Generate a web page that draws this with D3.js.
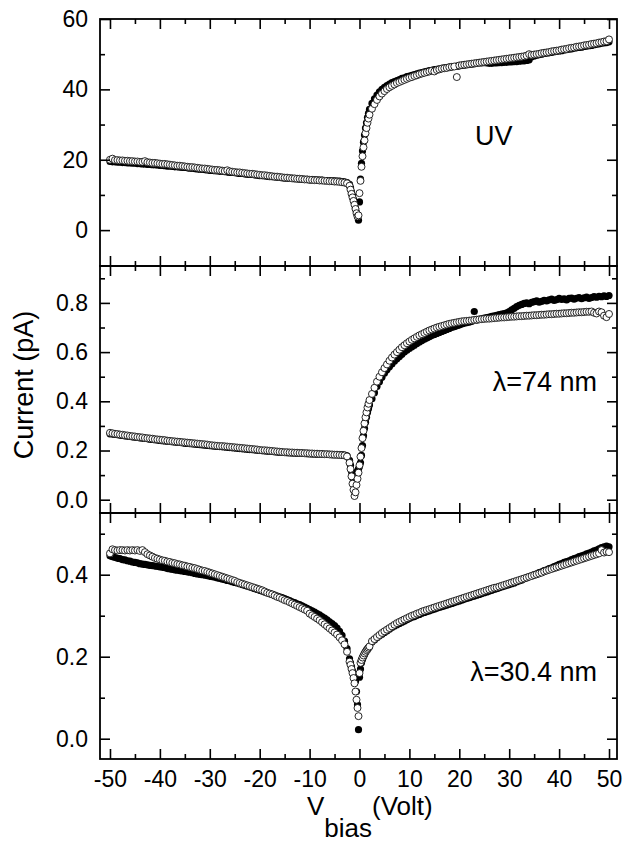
<!DOCTYPE html>
<html>
<head>
<meta charset="utf-8">
<script src="https://cdn.jsdelivr.net/npm/d3@7"></script>
<style>
  body { margin: 0; background: #fff; }
  svg { display: block; font-family: "Liberation Sans", Arial, sans-serif; }
</style>
</head>
<body>
<div id="chart"></div>
<script>
// bias sweep (Volt), shared by all six series
const voltage = [
  -50,-49.5,-49,-48.5,-48,-47.5,-47,-46.5,-46,-45.5,
  -45,-44.5,-44,-43.5,-43,-42.5,-42,-41.5,-41,-40.5,
  -40,-39.5,-39,-38.5,-38,-37.5,-37,-36.5,-36,-35.5,
  -35,-34.5,-34,-33.5,-33,-32.5,-32,-31.5,-31,-30.5,
  -30,-29.5,-29,-28.5,-28,-27.5,-27,-26.5,-26,-25.5,
  -25,-24.5,-24,-23.5,-23,-22.5,-22,-21.5,-21,-20.5,
  -20,-19.5,-19,-18.5,-18,-17.5,-17,-16.5,-16,-15.5,
  -15,-14.5,-14,-13.5,-13,-12.5,-12,-11.5,-11,-10.5,
  -10,-9.5,-9,-8.5,-8,-7.5,-7,-6.5,-6,-5.5,
  -5,-4.5,-4,-3.5,-3,-2.5,
  -2,-1.8,-1.6,-1.4,-1.2,-1,-0.8,-0.6,-0.4,-0.2,0,0.2,0.4,0.6,0.8,1,1.2,1.4,1.6,1.8,2,
  2.5,3,3.5,4,4.5,5,5.5,6,6.5,7,
  7.5,8,8.5,9,9.5,10,10.5,11,11.5,12,
  12.5,13,13.5,14,14.5,15,15.5,16,16.5,17,
  17.5,18,18.5,19,19.5,20,20.5,21,21.5,22,
  22.5,23,23.5,24,24.5,25,25.5,26,26.5,27,
  27.5,28,28.5,29,29.5,30,30.5,31,31.5,32,
  32.5,33,33.5,34,34.5,35,35.5,36,36.5,37,
  37.5,38,38.5,39,39.5,40,40.5,41,41.5,42,
  42.5,43,43.5,44,44.5,45,45.5,46,46.5,47,
  47.5,48,48.5,49,49.5,50
];

// UV panel (pA)
const uvOpen = [
  20.0,20.3,19.9,19.9,19.8,19.8,19.7,19.7,19.6,19.6,
  19.5,19.5,19.4,19.4,19.6,19.3,19.2,19.1,19.1,19.0,
  18.9,18.8,18.8,18.7,18.6,18.5,18.4,18.3,18.3,18.2,
  18.1,18.0,17.9,17.9,17.8,17.7,17.6,17.5,17.5,17.4,
  17.3,17.2,17.1,17.1,17.0,16.9,16.8,17.0,16.7,16.6,
  16.5,16.4,16.4,16.3,16.2,16.1,16.0,16.0,15.9,15.8,
  15.7,15.6,15.6,15.5,15.4,15.3,15.2,15.2,15.1,15.0,
  14.9,14.9,14.8,14.7,14.7,14.6,14.6,14.5,14.4,14.4,
  14.3,14.3,14.2,14.2,14.1,14.1,14.0,14.0,13.9,13.9,
  13.8,13.8,13.7,13.6,13.5,13.3,
  12.6,11.5,10.3,9.3,8.3,7.2,6.0,4.8,3.9,4.2,10.5,14.0,18.0,21.0,23.5,25.5,27.5,29.0,30.5,31.7,32.8,
  34.5,35.8,37.0,38.0,38.8,39.5,40.1,40.6,41.0,41.4,
  41.8,42.1,42.4,42.7,43.0,43.3,43.5,43.8,44.0,44.3,
  44.5,44.7,44.9,45.1,45.3,45.1,45.5,45.7,45.9,46.0,
  46.1,46.3,46.4,46.5,43.5,46.8,46.9,47.0,47.1,47.2,
  47.3,47.4,47.5,47.6,47.7,47.8,47.9,48.0,48.1,48.2,
  48.3,48.4,48.5,48.6,48.7,48.8,48.9,49.0,49.1,49.2,
  49.3,49.4,49.6,50.0,49.8,49.9,50.0,50.1,50.3,50.4,
  50.5,50.6,50.8,50.9,51.0,51.1,51.3,51.4,51.5,51.7,
  51.8,51.9,52.1,52.2,52.3,52.5,52.6,52.7,52.9,53.0,
  53.1,53.3,53.4,53.6,53.7,54.2
];
const uvFilled = [
  19.5,19.4,19.4,19.3,19.3,19.2,19.2,19.1,19.1,19.0,
  19.0,18.9,18.9,18.8,18.8,18.7,18.7,18.6,18.6,18.5,
  18.4,18.4,18.3,18.2,18.2,18.1,18.0,18.0,17.9,17.8,
  17.8,17.7,17.6,17.6,17.5,17.4,17.3,17.3,17.2,17.1,
  17.0,17.0,16.9,16.8,16.7,16.7,16.6,16.5,16.4,16.4,
  16.3,16.2,16.1,16.1,16.0,15.9,15.8,15.8,15.7,15.6,
  15.5,15.5,15.4,15.3,15.2,15.2,15.1,15.0,15.0,14.9,
  14.8,14.8,14.7,14.7,14.6,14.6,14.5,14.5,14.4,14.4,
  14.3,14.3,14.3,14.2,14.2,14.2,14.1,14.1,14.1,14.0,
  14.0,13.9,13.9,13.8,13.7,13.5,
  13.0,12.0,10.8,9.8,8.7,7.5,6.2,5.0,3.8,2.8,8.0,14.5,19.0,22.5,25.0,27.0,29.0,30.5,32.0,33.2,34.3,
  36.0,37.3,38.4,39.3,40.0,40.6,41.1,41.5,41.9,42.2,
  42.5,42.8,43.1,43.3,43.6,43.8,44.0,44.2,44.4,44.6,
  44.8,45.0,45.1,45.3,45.4,45.6,45.7,45.8,46.0,46.1,
  46.2,46.3,46.4,46.5,46.6,46.7,46.8,46.9,47.0,47.1,
  47.2,47.3,47.4,47.5,47.5,47.6,47.5,47.4,47.4,47.5,
  47.5,47.6,47.6,47.7,47.7,47.8,47.8,47.9,47.9,48.0,
  48.1,48.1,48.2,48.4,49.3,49.5,49.7,49.9,50.0,50.2,
  50.3,50.4,50.5,50.7,50.8,50.9,51.0,51.2,51.3,51.4,
  51.5,51.7,51.8,51.9,52.0,52.2,52.3,52.4,52.5,52.7,
  52.8,52.9,53.1,53.2,53.3,53.5
];

// lambda = 74 nm panel (pA)
const nm74Open = [
  0.272,0.270,0.268,0.267,0.265,0.264,0.262,0.261,0.259,0.258,
  0.257,0.255,0.254,0.253,0.251,0.250,0.249,0.248,0.246,0.245,
  0.244,0.243,0.242,0.240,0.239,0.238,0.237,0.236,0.235,0.234,
  0.233,0.232,0.231,0.230,0.229,0.228,0.227,0.226,0.225,0.224,
  0.222,0.221,0.220,0.219,0.218,0.218,0.217,0.216,0.215,0.214,
  0.213,0.212,0.211,0.210,0.209,0.208,0.207,0.206,0.205,0.204,
  0.202,0.201,0.201,0.200,0.199,0.198,0.197,0.196,0.195,0.194,
  0.193,0.193,0.192,0.192,0.191,0.191,0.190,0.190,0.189,0.189,
  0.188,0.188,0.187,0.187,0.186,0.186,0.185,0.185,0.184,0.184,
  0.183,0.183,0.182,0.181,0.180,0.176,
  0.150,0.125,0.095,0.065,0.040,0.015,0.030,0.060,0.085,0.110,0.140,0.175,0.210,0.250,0.280,0.310,0.335,0.355,0.375,0.390,0.405,
  0.430,0.455,0.480,0.500,0.518,0.535,0.550,0.565,0.578,0.590,
  0.600,0.610,0.620,0.628,0.636,0.643,0.650,0.656,0.662,0.668,
  0.673,0.678,0.683,0.688,0.692,0.696,0.700,0.703,0.706,0.709,
  0.712,0.715,0.717,0.719,0.721,0.723,0.725,0.726,0.727,0.728,
  0.729,0.731,0.732,0.733,0.734,0.735,0.736,0.736,0.737,0.738,
  0.739,0.740,0.741,0.741,0.742,0.743,0.744,0.744,0.745,0.746,
  0.746,0.747,0.748,0.748,0.749,0.750,0.750,0.751,0.752,0.752,
  0.753,0.754,0.754,0.755,0.756,0.756,0.757,0.758,0.758,0.759,
  0.760,0.760,0.761,0.762,0.762,0.763,0.764,0.764,0.765,0.760,
  0.757,0.765,0.762,0.748,0.742,0.755
];
const nm74Filled = [
  0.268,0.267,0.265,0.264,0.262,0.261,0.259,0.258,0.257,0.255,
  0.254,0.253,0.251,0.250,0.249,0.248,0.246,0.245,0.244,0.243,
  0.241,0.240,0.239,0.238,0.237,0.236,0.235,0.234,0.233,0.232,
  0.230,0.229,0.228,0.227,0.226,0.225,0.224,0.223,0.222,0.221,
  0.220,0.219,0.218,0.217,0.216,0.215,0.214,0.213,0.212,0.211,
  0.210,0.209,0.208,0.207,0.206,0.205,0.204,0.203,0.202,0.201,
  0.200,0.199,0.198,0.197,0.197,0.196,0.195,0.194,0.193,0.193,
  0.192,0.191,0.191,0.190,0.190,0.189,0.189,0.188,0.188,0.187,
  0.187,0.186,0.186,0.185,0.185,0.185,0.184,0.184,0.184,0.183,
  0.183,0.183,0.182,0.182,0.181,0.178,
  0.160,0.140,0.115,0.090,0.070,0.075,0.090,0.100,0.115,0.125,0.135,0.150,0.180,0.220,0.260,0.290,0.315,0.335,0.355,0.370,0.385,
  0.410,0.435,0.460,0.480,0.498,0.514,0.528,0.540,0.552,0.563,
  0.573,0.582,0.591,0.600,0.608,0.615,0.622,0.628,0.635,0.641,
  0.647,0.652,0.657,0.662,0.667,0.672,0.676,0.680,0.684,0.688,
  0.692,0.696,0.700,0.703,0.707,0.710,0.714,0.717,0.720,0.722,
  0.725,0.765,0.730,0.733,0.735,0.738,0.740,0.742,0.745,0.747,
  0.749,0.752,0.754,0.757,0.760,0.765,0.772,0.778,0.785,0.790,
  0.794,0.798,0.800,0.797,0.802,0.805,0.808,0.803,0.806,0.810,
  0.808,0.812,0.815,0.810,0.813,0.818,0.814,0.816,0.812,0.818,
  0.820,0.815,0.819,0.822,0.817,0.821,0.824,0.818,0.822,0.826,
  0.823,0.827,0.825,0.829,0.826,0.830
];

// lambda = 30.4 nm panel (pA)
const nm30Open = [
  0.452,0.462,0.460,0.459,0.460,0.460,0.459,0.460,0.459,0.460,
  0.459,0.460,0.458,0.460,0.455,0.450,0.447,0.444,0.441,0.439,
  0.437,0.435,0.434,0.432,0.431,0.429,0.428,0.426,0.425,0.423,
  0.422,0.420,0.419,0.417,0.416,0.414,0.412,0.410,0.409,0.407,
  0.405,0.403,0.401,0.399,0.397,0.395,0.393,0.391,0.389,0.387,
  0.385,0.382,0.380,0.378,0.376,0.374,0.372,0.370,0.368,0.366,
  0.364,0.362,0.359,0.356,0.354,0.352,0.349,0.346,0.344,0.341,
  0.338,0.336,0.333,0.330,0.327,0.324,0.321,0.318,0.315,0.312,
  0.305,0.301,0.297,0.293,0.289,0.284,0.279,0.274,0.269,0.264,
  0.259,0.254,0.247,0.240,0.230,0.212,
  0.188,0.180,0.170,0.160,0.148,0.135,0.115,0.095,0.075,0.055,0.160,0.185,0.192,0.198,0.203,0.208,0.212,0.216,0.219,0.222,0.225,
  0.238,0.243,0.248,0.253,0.258,0.262,0.266,0.270,0.274,0.278,
  0.282,0.285,0.288,0.291,0.294,0.297,0.300,0.302,0.305,0.307,
  0.310,0.312,0.314,0.316,0.318,0.320,0.322,0.324,0.326,0.328,
  0.330,0.332,0.334,0.336,0.338,0.340,0.342,0.344,0.346,0.348,
  0.350,0.352,0.354,0.356,0.358,0.360,0.362,0.364,0.366,0.368,
  0.369,0.371,0.373,0.375,0.377,0.379,0.381,0.383,0.385,0.387,
  0.389,0.391,0.393,0.395,0.397,0.399,0.401,0.403,0.405,0.408,
  0.410,0.412,0.414,0.416,0.418,0.420,0.422,0.424,0.426,0.428,
  0.430,0.432,0.434,0.436,0.438,0.440,0.442,0.444,0.446,0.448,
  0.450,0.452,0.460,0.454,0.456,0.455
];
const nm30Filled = [
  0.446,0.444,0.442,0.440,0.439,0.437,0.436,0.434,0.433,0.431,
  0.430,0.429,0.427,0.426,0.425,0.424,0.423,0.422,0.421,0.420,
  0.419,0.418,0.417,0.415,0.414,0.413,0.412,0.411,0.410,0.409,
  0.408,0.407,0.406,0.405,0.403,0.402,0.401,0.400,0.399,0.398,
  0.396,0.395,0.394,0.392,0.391,0.389,0.388,0.386,0.385,0.383,
  0.381,0.380,0.378,0.376,0.374,0.372,0.370,0.368,0.366,0.364,
  0.362,0.360,0.358,0.356,0.354,0.352,0.350,0.348,0.346,0.344,
  0.342,0.339,0.337,0.334,0.332,0.329,0.327,0.324,0.321,0.318,
  0.315,0.312,0.309,0.305,0.302,0.298,0.294,0.290,0.285,0.281,
  0.276,0.270,0.262,0.252,0.238,0.220,
  0.195,0.185,0.175,0.165,0.155,0.150,0.140,0.115,0.083,0.022,0.150,0.170,0.185,0.193,0.200,0.205,0.210,0.214,0.217,0.221,0.224,
  0.236,0.241,0.246,0.251,0.255,0.259,0.263,0.267,0.271,0.275,
  0.278,0.281,0.284,0.287,0.290,0.293,0.296,0.298,0.301,0.303,
  0.306,0.308,0.310,0.312,0.314,0.316,0.318,0.320,0.322,0.324,
  0.326,0.328,0.330,0.332,0.334,0.336,0.338,0.340,0.342,0.344,
  0.346,0.348,0.350,0.352,0.354,0.356,0.358,0.360,0.362,0.364,
  0.366,0.368,0.370,0.372,0.374,0.376,0.378,0.380,0.383,0.385,
  0.387,0.390,0.392,0.395,0.397,0.400,0.402,0.405,0.407,0.410,
  0.412,0.415,0.417,0.420,0.422,0.425,0.427,0.430,0.432,0.434,
  0.437,0.439,0.441,0.444,0.446,0.448,0.451,0.453,0.455,0.458,
  0.460,0.463,0.466,0.468,0.470,0.468
];

// tick values
const xMajor = [-50,-40,-30,-20,-10,0,10,20,30,40,50];
const xMinor = [-45,-35,-25,-15,-5,5,15,25,35,45];
const uvMajor = [0,20,40,60];
const uvMinor = [-10,10,30,50];
const nm74Major = [0,0.2,0.4,0.6,0.8];
const nm74Minor = [0.1,0.3,0.5,0.7,0.9];
const nm30Major = [0,0.2,0.4];
const nm30Minor = [0.1,0.3,0.5];

const W = 623, H = 845;
const left = 100, right = 617;

// plain hyphen for negatives, like the original
const fmtInt = function (d) { return String(d); };
const fmtOne = function (d) { return d.toFixed(1); };

const svg = d3.select("#chart").append("svg")
  .attr("width", W)
  .attr("height", H);

const x = d3.scaleLinear().domain([-52, 51.6]).range([left, right]);

const panels = [
  {top: 19, bottom: 266, domain: [-10.2, 60], major: uvMajor, minor: uvMinor, fmt: fmtInt,
   open: uvOpen, filled: uvFilled, label: "UV", lx: 475, ly: 145, anchor: "start"},
  {top: 266, bottom: 513, domain: [-0.054, 0.95], major: nm74Major, minor: nm74Minor, fmt: fmtOne,
   open: nm74Open, filled: nm74Filled, label: "\u03bb=74 nm", lx: 597, ly: 391, anchor: "end"},
  {top: 513, bottom: 759, domain: [-0.0495, 0.5505], major: nm30Major, minor: nm30Minor, fmt: fmtOne,
   open: nm30Open, filled: nm30Filled, label: "\u03bb=30.4 nm", lx: 597, ly: 681, anchor: "end"}
];

function styleAxis(g) {
  g.select(".domain").remove();
  g.selectAll("line").attr("stroke", "#000").attr("stroke-width", 1.6);
  g.selectAll("text").attr("fill", "#000").style("font-size", "23px");
}

panels.forEach(function (p, i) {
  const y = d3.scaleLinear().domain(p.domain).range([p.bottom, p.top]);
  const last = i === panels.length - 1;

  // points: filled first, open on top
  const g = svg.append("g");
  g.selectAll(".filled")
    .data(voltage)
    .enter().append("circle")
    .attr("class", "filled")
    .attr("cx", function (d) { return x(d); })
    .attr("cy", function (d, j) { return y(p.filled[j]); })
    .attr("r", 3.6)
    .attr("fill", "#000");

  g.selectAll(".open")
    .data(voltage)
    .enter().append("circle")
    .attr("class", "open")
    .attr("cx", function (d) { return x(d); })
    .attr("cy", function (d, j) { return y(p.open[j]); })
    .attr("r", 3.5)
    .attr("fill", "#fff")
    .attr("stroke", "#111")
    .attr("stroke-width", 0.9);

  // left axis
  svg.append("g")
    .attr("transform", "translate(" + left + ",0)")
    .call(d3.axisLeft(y).tickValues(p.major).tickFormat(p.fmt).tickSizeInner(-10).tickSizeOuter(0).tickPadding(12))
    .call(styleAxis);
  svg.append("g")
    .attr("transform", "translate(" + left + ",0)")
    .call(d3.axisLeft(y).tickValues(p.minor).tickFormat("").tickSizeInner(-5).tickSizeOuter(0))
    .call(styleAxis);

  // right axis
  svg.append("g")
    .attr("transform", "translate(" + right + ",0)")
    .call(d3.axisRight(y).tickValues(p.major).tickFormat("").tickSizeInner(-10).tickSizeOuter(0))
    .call(styleAxis);
  svg.append("g")
    .attr("transform", "translate(" + right + ",0)")
    .call(d3.axisRight(y).tickValues(p.minor).tickFormat("").tickSizeInner(-5).tickSizeOuter(0))
    .call(styleAxis);

  // top and bottom
  svg.append("g")
    .attr("transform", "translate(0," + p.top + ")")
    .call(d3.axisTop(x).tickValues(xMajor).tickFormat("").tickSizeInner(-10).tickSizeOuter(0))
    .call(styleAxis);
  svg.append("g")
    .attr("transform", "translate(0," + p.top + ")")
    .call(d3.axisTop(x).tickValues(xMinor).tickFormat("").tickSizeInner(-5).tickSizeOuter(0))
    .call(styleAxis);
  svg.append("g")
    .attr("transform", "translate(0," + p.bottom + ")")
    .call(d3.axisBottom(x).tickValues(xMajor).tickFormat(last ? fmtInt : "").tickSizeInner(-10).tickSizeOuter(0).tickPadding(12))
    .call(styleAxis);
  svg.append("g")
    .attr("transform", "translate(0," + p.bottom + ")")
    .call(d3.axisBottom(x).tickValues(xMinor).tickFormat("").tickSizeInner(-5).tickSizeOuter(0))
    .call(styleAxis);

  // frame
  svg.append("rect")
    .attr("x", left)
    .attr("y", p.top)
    .attr("width", right - left)
    .attr("height", p.bottom - p.top)
    .attr("fill", "none")
    .attr("stroke", "#000")
    .attr("stroke-width", 1.8);

  svg.append("text")
    .attr("x", p.lx)
    .attr("y", p.ly)
    .attr("text-anchor", p.anchor)
    .style("font-size", "27px")
    .text(p.label);
});

svg.append("text")
  .attr("transform", "translate(33,385) rotate(-90)")
  .attr("text-anchor", "middle")
  .style("font-size", "27px")
  .text("Current (pA)");

const xl = svg.append("text")
  .attr("x", 307)
  .attr("y", 815)
  .style("font-size", "26px");
xl.append("tspan").text("V");
xl.append("tspan").attr("dy", 22).text("bias");
xl.append("tspan").attr("dy", -22).text("(Volt)");
</script>
</body>
</html>
